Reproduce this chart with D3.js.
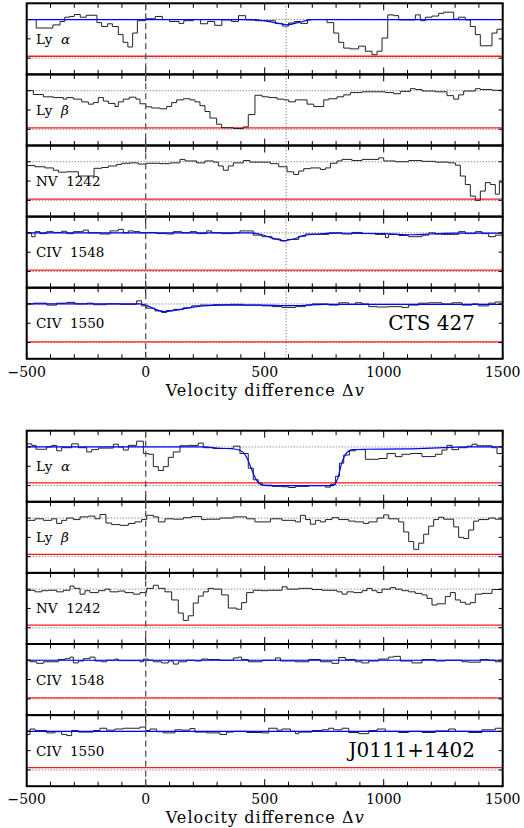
<!DOCTYPE html>
<html>
<head>
<meta charset="utf-8">
<script src="https://cdn.jsdelivr.net/npm/d3@7"></script>
<style>
  body { margin: 0; background: #fff; }
  svg { display: block; }
  text { font-family: "DejaVu Serif", "Liberation Serif", serif; fill: #000; }
</style>
</head>
<body>
<svg id="chart" width="524" height="828"></svg>
<script>
// ---- data: [velocity of step start, normalised flux] ----
var labels = ["Ly  α", "Ly  β", "NV  1242", "CIV  1548", "CIV  1550"];
var xTicks = [-500, 0, 500, 1000, 1500];

// CTS 427
var ctsLya = [[-500,1.0],[-460,0.78],[-390,0.86],[-360,0.95],[-340,1.06],[-320,1.08],[-300,1.13],[-275,1.06],[-250,1.11],[-205,0.92],[-185,0.82],[-160,0.89],[-140,0.82],[-115,0.61],[-95,0.41],[-75,0.29],[-55,0.65],[-35,0.97],[0,1.02],[40,1.08],[70,1.0],[100,0.95],[140,0.9],[160,0.97],[200,1.0],[230,0.89],[260,0.95],[290,0.85],[320,0.99],[360,0.95],[390,1.1],[420,0.99],[460,0.97],[545,0.9],[575,0.83],[600,0.91],[625,0.95],[650,0.9],[680,1.0],[762,0.92],[790,0.65],[811,0.41],[832,0.26],[860,0.24],[895,0.31],[923,0.18],[951,0.09],[972,0.18],[993,0.52],[1017,1.12],[1042,1.10],[1063,0.99],[1133,1.12],[1154,0.97],[1175,1.06],[1203,1.09],[1231,1.16],[1252,1.19],[1294,1.01],[1315,1.06],[1343,0.99],[1364,0.82],[1385,0.61],[1406,0.32],[1455,0.65],[1476,0.75]];
var ctsLyb = [[-500,1.0],[-472,0.9],[-430,0.84],[-388,0.82],[-346,0.78],[-332,0.82],[-304,0.78],[-269,0.71],[-241,0.65],[-220,0.69],[-199,0.82],[-178,0.73],[-157,0.67],[-129,0.59],[-115,0.71],[-94,0.78],[-69,0.83],[-41,0.78],[-24,0.66],[0,0.58],[25,0.55],[60,0.53],[88,0.59],[109,0.69],[130,0.76],[158,0.79],[186,0.76],[207,0.71],[228,0.61],[249,0.46],[270,0.29],[298,0.13],[319,0.04],[368,0.02],[410,0.06],[431,0.38],[459,0.88],[489,0.84],[517,0.82],[552,0.78],[580,0.76],[601,0.71],[629,0.76],[678,0.65],[706,0.59],[748,0.76],[769,0.79],[804,0.84],[832,0.89],[860,0.95],[909,0.97],[1007,0.95],[1042,0.92],[1070,0.98],[1112,1.05],[1133,1.03],[1161,0.99],[1217,0.97],[1266,0.87],[1294,0.78],[1315,0.89],[1336,0.99],[1385,1.05],[1406,1.03],[1455,1.01]];
var ctsNV = [[-500,0.9],[-465,0.87],[-423,0.84],[-388,0.78],[-367,0.73],[-332,0.74],[-283,0.63],[-217,0.83],[-185,0.85],[-157,0.89],[-122,0.93],[-101,0.96],[-66,0.97],[-31,0.94],[4,0.96],[60,0.95],[102,0.97],[144,1.06],[165,1.02],[214,0.97],[249,1.02],[284,0.99],[305,0.89],[326,0.78],[347,0.89],[368,0.97],[410,1.03],[438,0.99],[524,0.95],[559,0.87],[594,0.74],[622,0.67],[643,0.76],[664,0.82],[692,0.84],[734,0.8],[755,0.84],[776,0.96],[804,1.02],[825,1.06],[867,1.03],[909,1.06],[979,1.10],[1000,1.02],[1049,1.0],[1105,1.03],[1161,1.01],[1217,0.99],[1273,0.97],[1301,0.91],[1322,0.63],[1343,0.41],[1364,0.11],[1385,0.0],[1406,0.24],[1427,0.46],[1448,0.41],[1469,0.16],[1486,0.47]];
var ctsC1548 = [[-500,1.0],[-479,0.9],[-465,1.03],[-444,0.98],[-416,1.03],[-388,1.01],[-353,1.04],[-332,0.98],[-304,1.03],[-262,1.07],[-241,1.0],[-192,0.97],[-150,1.05],[-115,1.09],[-94,1.0],[-73,1.05],[-52,1.03],[-24,1.0],[4,1.01],[46,0.98],[88,0.97],[116,1.03],[151,1.0],[186,1.03],[214,0.98],[256,1.05],[277,1.0],[319,0.98],[368,1.0],[396,1.05],[452,0.94],[489,0.9],[531,0.84],[566,0.79],[594,0.83],[643,0.91],[671,0.97],[713,0.96],[769,1.0],[825,0.97],[867,1.01],[909,0.98],[965,0.96],[1007,0.88],[1021,0.96],[1063,0.93],[1105,0.9],[1161,0.94],[1189,1.0],[1217,0.97],[1245,0.96],[1315,1.03],[1343,0.98],[1385,1.03],[1413,0.98],[1441,0.9],[1469,0.94]];
var ctsC1550 = [[-500,1.0],[-472,1.02],[-416,0.97],[-374,1.02],[-332,1.04],[-297,1.0],[-248,1.02],[-220,0.98],[-164,1.0],[-108,0.99],[-38,1.08],[-17,0.95],[4,0.89],[39,0.82],[67,0.78],[88,0.83],[116,0.86],[158,0.9],[193,0.95],[228,0.97],[284,0.98],[354,0.99],[410,0.97],[489,0.95],[531,0.93],[573,0.91],[629,0.93],[671,0.97],[699,1.0],[769,0.97],[811,1.03],[853,0.99],[881,1.03],[909,1.0],[937,0.93],[972,0.92],[1021,0.93],[1077,0.91],[1105,0.97],[1147,1.02],[1189,1.03],[1245,1.0],[1287,1.03],[1329,0.97],[1371,1.0],[1399,0.95],[1441,1.02],[1469,1.05]];
var ctsLyaFit = [[-500,1],[430,1],[489,0.975],[540,0.92],[600,0.87],[640,0.92],[700,0.995],[760,1],[1500,1]];
var ctsC1548Fit = [[-500,1],[440,1],[489,0.95],[540,0.85],[580,0.8],[620,0.84],[660,0.92],[720,0.97],[800,0.99],[1000,0.98],[1100,0.95],[1200,0.97],[1300,0.99],[1500,0.99]];
var ctsC1550Fit = [[-500,1],[-30,1],[0,0.97],[40,0.86],[80,0.8],[120,0.83],[180,0.9],[240,0.95],[320,0.97],[500,0.97],[580,0.955],[650,0.96],[750,0.99],[1500,0.99]];
var ctsErr = [0.05, 0.035, 0.03, 0.035, 0.02];

// J0111+1402
var jLya = [[-500,1.08],[-479,1.04],[-461,0.94],[-416,1.0],[-395,1.04],[-374,0.9],[-353,0.98],[-311,1.08],[-283,0.98],[-248,0.87],[-227,0.93],[-199,0.97],[-136,1.07],[-115,1.0],[-94,0.92],[-73,1.04],[-38,1.15],[-10,0.83],[11,0.81],[32,0.49],[53,0.39],[74,0.49],[95,0.73],[116,0.87],[144,1.03],[179,1.04],[221,1.1],[242,0.98],[284,0.96],[368,1.02],[396,0.83],[431,0.45],[452,0.15],[473,0.07],[489,0.01],[531,-0.02],[573,-0.03],[601,-0.05],[629,-0.02],[685,0.0],[755,-0.04],[776,0.03],[797,0.24],[814,0.58],[832,0.79],[856,0.9],[881,0.93],[923,0.68],[979,0.7],[1014,0.83],[1049,0.75],[1077,0.81],[1112,0.83],[1161,0.75],[1217,0.81],[1245,0.92],[1266,1.04],[1287,0.93],[1315,0.98],[1350,1.02],[1371,1.07],[1392,1.03],[1455,0.98],[1476,0.83]];
var jLyb = [[-500,0.94],[-465,0.98],[-430,0.94],[-395,0.98],[-374,0.86],[-353,0.94],[-332,1.0],[-304,0.96],[-276,1.03],[-241,1.05],[-213,0.98],[-192,1.09],[-167,0.87],[-143,0.83],[-108,0.81],[-73,0.86],[-45,0.9],[-17,0.96],[4,1.07],[32,1.03],[53,0.9],[81,0.98],[116,0.97],[158,1.01],[193,1.04],[235,0.96],[256,0.97],[312,1.0],[368,1.03],[424,0.98],[459,0.9],[524,0.98],[573,0.94],[629,0.9],[650,1.07],[671,0.96],[692,0.84],[713,0.94],[734,0.9],[755,0.96],[783,1.01],[811,0.96],[853,0.92],[881,0.9],[916,0.86],[937,0.9],[972,1.0],[1000,1.08],[1021,0.98],[1063,0.9],[1084,0.64],[1105,0.39],[1126,0.19],[1147,0.35],[1168,0.58],[1189,0.79],[1210,0.96],[1231,1.02],[1252,0.97],[1294,0.77],[1315,0.5],[1336,0.47],[1357,0.69],[1378,0.92],[1399,0.96],[1441,1.0],[1469,0.97]];
var jNV = [[-500,0.97],[-465,0.93],[-437,0.96],[-409,0.97],[-374,0.93],[-346,0.97],[-318,1.08],[-301,1.02],[-276,0.87],[-255,0.96],[-234,0.91],[-199,0.96],[-171,1.0],[-150,0.93],[-115,0.95],[-87,0.91],[-52,0.87],[-24,0.91],[4,1.02],[32,1.1],[53,1.02],[81,0.93],[109,0.72],[137,0.38],[158,0.19],[179,0.31],[200,0.64],[221,0.82],[242,0.93],[263,1.02],[284,1.0],[319,0.85],[347,0.51],[382,0.48],[403,0.65],[424,0.91],[452,0.97],[489,0.96],[517,0.97],[573,1.06],[594,1.0],[643,1.02],[699,0.99],[741,0.97],[804,0.93],[825,0.87],[846,0.93],[874,0.91],[909,0.96],[930,1.02],[951,0.96],[972,0.91],[993,1.0],[1028,1.04],[1049,1.0],[1077,0.96],[1105,0.93],[1133,0.89],[1161,0.85],[1182,0.76],[1203,0.59],[1224,0.62],[1259,0.81],[1280,0.91],[1301,0.72],[1322,0.66],[1343,0.61],[1364,0.65],[1385,0.87],[1413,0.89],[1455,0.99]];
var jC1548 = [[-500,1.0],[-486,0.96],[-458,0.92],[-430,0.96],[-367,1.02],[-339,1.04],[-318,1.08],[-304,0.93],[-283,0.98],[-262,1.04],[-234,1.08],[-213,0.98],[-185,0.96],[-164,1.0],[-129,1.03],[-115,0.99],[-24,0.96],[-10,1.03],[11,1.0],[32,0.96],[67,0.93],[95,0.98],[116,0.9],[137,0.96],[172,1.0],[207,0.98],[235,1.03],[263,1.02],[312,1.0],[368,1.06],[389,1.08],[403,1.02],[431,0.96],[489,1.0],[545,1.06],[566,0.98],[629,0.96],[685,1.02],[734,0.96],[783,0.92],[811,1.07],[839,1.02],[881,0.96],[909,0.93],[937,0.98],[979,1.03],[1021,1.08],[1042,1.10],[1070,0.98],[1119,0.93],[1161,1.02],[1217,0.98],[1259,1.0],[1329,0.96],[1357,0.95],[1406,1.02],[1441,1.0],[1469,0.96]];
var jC1550 = [[-500,0.92],[-486,1.06],[-465,1.02],[-416,0.96],[-381,0.99],[-353,0.92],[-332,0.89],[-311,1.02],[-283,0.98],[-220,1.02],[-192,1.08],[-164,1.03],[-129,1.06],[-94,1.08],[-24,1.11],[0,1.02],[18,1.06],[46,0.99],[74,0.96],[123,1.04],[151,1.03],[186,1.07],[207,0.98],[256,0.96],[312,0.92],[340,0.98],[368,1.0],[424,0.97],[489,0.96],[517,1.08],[552,1.03],[573,1.06],[608,1.0],[629,0.94],[643,0.98],[699,1.02],[741,1.04],[769,1.08],[790,1.04],[825,1.08],[853,0.97],[895,0.94],[937,1.02],[972,1.06],[1007,1.0],[1063,0.97],[1105,1.0],[1161,0.97],[1217,1.01],[1273,1.06],[1301,1.0],[1357,0.97],[1413,1.04],[1469,1.08]];
var jLyaFit = [[-500,1],[250,1],[300,0.97],[380,0.94],[410,0.86],[425,0.72],[440,0.5],[455,0.27],[470,0.1],[485,0.02],[510,0],[785,0],[797,0.05],[810,0.25],[822,0.55],[835,0.76],[850,0.88],[870,0.93],[920,0.94],[1100,0.95],[1250,0.98],[1350,1],[1500,1]];
var jC1548Fit = [[-500,1],[1500,1]];
var jC1550Fit = [[-500,1],[1500,1]];
var jErr = [0.07, 0.06, 0.07, 0.025, 0.06];

var figures = [
  {name: "CTS 427", top: 3.3, spectra: [ctsLya, ctsLyb, ctsNV, ctsC1548, ctsC1550],
   fits: [ctsLyaFit, null, null, ctsC1548Fit, ctsC1550Fit], err: ctsErr, marker: 590},
  {name: "J0111+1402", top: 430.7, spectra: [jLya, jLyb, jNV, jC1548, jC1550],
   fits: [jLyaFit, null, null, jC1548Fit, jC1550Fit], err: jErr, marker: null}
];

var svg = d3.select("#chart");
var x = d3.scaleLinear().domain([-500, 1500]).range([26.7, 502.7]);
var panelH = 71.1;
var nPanels = 5;

figures.forEach(function(fig, fi) {
  var g = svg.append("g");
  var figBottom = fig.top + nPanels * panelH;

  fig.spectra.forEach(function(spec, i) {
    var top = fig.top + i * panelH;
    var y = d3.scaleLinear().domain([-0.42, 1.42]).range([top + panelH, top]);
    var clipId = "clip" + fi + "_" + i;
    g.append("clipPath").attr("id", clipId)
      .append("rect").attr("x", x(-500)).attr("y", top)
      .attr("width", x(1500) - x(-500)).attr("height", panelH);
    var p = g.append("g");
    var inner = p.append("g").attr("clip-path", "url(#" + clipId + ")");

    // continuum and zero level
    [0, 1].forEach(function(lev) {
      inner.append("line")
        .attr("x1", x(-500)).attr("x2", x(1500))
        .attr("y1", y(lev)).attr("y2", y(lev))
        .attr("stroke", "#333").attr("stroke-width", 0.8)
        .attr("stroke-dasharray", "1,2");
    });

    // error level
    inner.append("line")
      .attr("x1", x(-500)).attr("x2", x(1500))
      .attr("y1", y(fig.err[i])).attr("y2", y(fig.err[i]))
      .attr("stroke", "#ff1a1a").attr("stroke-width", 1.3);

    // spectrum as histogram
    var pts = spec.concat([[1500, spec[spec.length - 1][1]]]);
    var step = d3.line().x(function(d) { return x(d[0]); })
      .y(function(d) { return y(d[1]); }).curve(d3.curveStepAfter);
    inner.append("path").datum(pts).attr("d", step)
      .attr("fill", "none").attr("stroke", "#222").attr("stroke-width", 1);

    // fitted profile
    if (fig.fits[i]) {
      var smooth = d3.line().x(function(d) { return x(d[0]); })
        .y(function(d) { return y(d[1]); }).curve(d3.curveMonotoneX);
      inner.append("path").datum(fig.fits[i]).attr("d", smooth)
        .attr("fill", "none").attr("stroke", "#0000ff").attr("stroke-width", 1.2);
    }

    // ion label
    var parts = labels[i].split("  ");
    var lab = p.append("text")
      .attr("x", 36).attr("y", y(0.5) + 5)
      .attr("xml:space", "preserve")
      .style("white-space", "pre")
      .style("font-size", "13.5px");
    lab.append("tspan").text(parts[0] + "  ");
    lab.append("tspan").style("font-style", /[α-ω]/.test(parts[1]) ? "italic" : "normal").text(parts[1]);

    // x ticks on top and bottom edge
    d3.range(-500, 1501, 100).forEach(function(v) {
      var len = (v % 500 === 0) ? 7 : 4.5;
      p.append("line").attr("x1", x(v)).attr("x2", x(v))
        .attr("y1", top).attr("y2", top + len).attr("stroke", "#000").attr("stroke-width", 1);
      p.append("line").attr("x1", x(v)).attr("x2", x(v))
        .attr("y1", top + panelH).attr("y2", top + panelH - len).attr("stroke", "#000").attr("stroke-width", 1);
    });
    // y ticks on both sides
    [0, 0.5, 1].forEach(function(lev) {
      p.append("line").attr("x1", x(-500)).attr("x2", x(-500) + 4)
        .attr("y1", y(lev)).attr("y2", y(lev)).attr("stroke", "#000");
      p.append("line").attr("x1", x(1500)).attr("x2", x(1500) - 4)
        .attr("y1", y(lev)).attr("y2", y(lev)).attr("stroke", "#000");
    });

    p.append("rect").attr("x", x(-500)).attr("y", top)
      .attr("width", x(1500) - x(-500)).attr("height", panelH)
      .attr("fill", "none").attr("stroke", "#000").attr("stroke-width", 2);
  });

  // systemic velocity
  g.append("line").attr("x1", x(0)).attr("x2", x(0))
    .attr("y1", fig.top).attr("y2", figBottom)
    .attr("stroke", "#555").attr("stroke-width", 1.3).attr("stroke-dasharray", "6,4");
  if (fig.marker !== null) {
    g.append("line").attr("x1", x(fig.marker)).attr("x2", x(fig.marker))
      .attr("y1", fig.top).attr("y2", figBottom)
      .attr("stroke", "#555").attr("stroke-width", 1).attr("stroke-dasharray", "1,2");
  }

  // tick labels
  g.selectAll("text.tick").data(xTicks).enter().append("text")
    .attr("class", "tick")
    .attr("x", function(d) { return x(d); })
    .attr("y", figBottom + 18)
    .attr("text-anchor", "middle")
    .style("font-size", "14px")
    .text(function(d) { return d < 0 ? "\u2212" + Math.abs(d) : d; });

  var xl = g.append("text")
    .attr("x", 264.7).attr("y", figBottom + 37)
    .attr("text-anchor", "middle")
    .attr("textLength", 198).attr("lengthAdjust", "spacing")
    .style("font-size", "16px");
  xl.append("tspan").text("Velocity difference \u0394");
  xl.append("tspan").style("font-style", "italic").text("v");

  // object name
  g.append("text")
    .attr("x", 475).attr("y", fig.top + 4 * panelH + 42)
    .attr("text-anchor", "end")
    .style("font-size", "20px")
    .text(fig.name);
});
</script>
</body>
</html>
